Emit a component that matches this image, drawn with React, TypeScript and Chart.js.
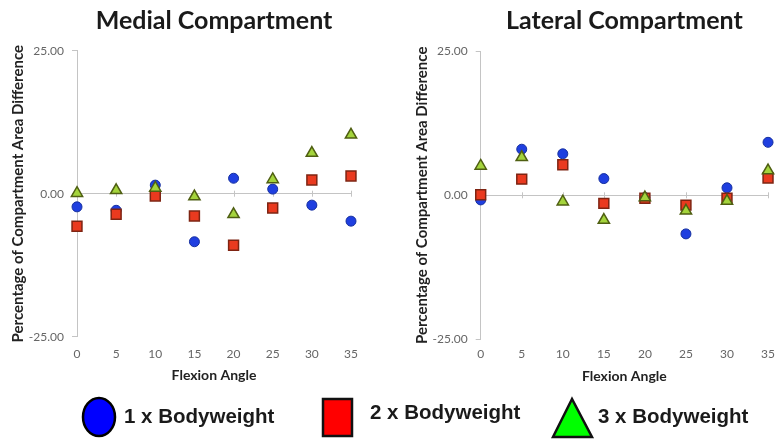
import React, { useEffect, useRef } from "react";
import { Chart, registerables } from "chart.js";

Chart.register(...registerables);

const angles = [0, 5, 10, 15, 20, 25, 30, 35];
const yTickValues = [-25, 0, 25];

const medial1x = [-2.3, -2.9, 1.5, -8.4, 2.7, 0.8, -2.0, -4.8];
const medial2x = [-5.7, -3.6, -0.4, -3.9, -9.0, -2.5, 2.4, 3.1];
const medial3x = [0.1, 0.6, 1.0, -0.5, -3.6, 2.5, 7.1, 10.3];

const lateral1x = [-0.8, 8.0, 7.2, 2.9, -0.4, -6.7, 1.3, 9.2];
const lateral2x = [0.1, 2.8, 5.3, -1.4, -0.5, -1.7, -0.5, 3.0];
const lateral3x = [5.1, 6.6, -1.1, -4.3, -0.4, -2.7, -1.0, 4.3];

const seriesNames = ["1 x Bodyweight", "2 x Bodyweight", "3 x Bodyweight"];

const FONT = 'Lato, "Open Sans", sans-serif';
const AXIS_GRAY = "#c4c4c4";

const zeroTicks = {
  id: "zeroTicks",
  beforeDatasetsDraw(chart: any) {
    const { ctx, scales } = chart;
    const x = scales.x;
    const y = scales.y;
    const y0 = y.getPixelForValue(0);
    ctx.save();
    ctx.strokeStyle = AXIS_GRAY;
    ctx.lineWidth = 1;
    x.ticks.forEach((t: any) => {
      const px = Math.round(x.getPixelForValue(t.value)) + 0.5;
      ctx.beginPath();
      ctx.moveTo(px, y0 - 3);
      ctx.lineTo(px, y0 + 3);
      ctx.stroke();
    });
    ctx.restore();
  },
};

type PanelProps = {
  title: string;
  d1: number[];
  d2: number[];
  d3: number[];
  width: number;
  height: number;
  yAxisWidth: number;
  padRight: number;
  xHeight: number;
  xTickPad: number;
  xTitlePadBottom: number;
  yTitlePadTop: number;
  titlePadBottom: number;
};

function toPts(vals: number[]) {
  return vals.map((v, i) => ({ x: angles[i], y: v }));
}

function Panel(p: PanelProps) {
  const ref = useRef<HTMLCanvasElement | null>(null);
  useEffect(() => {
    if (!ref.current) return;
    const chart = new Chart(ref.current, {
      type: "scatter",
      data: {
        datasets: [
          {
            label: seriesNames[0],
            data: toPts(p.d1),
            pointStyle: "circle",
            pointRadius: 5,
            pointHoverRadius: 5,
            backgroundColor: "#1f3fe0",
            borderColor: "#16309f",
            borderWidth: 1,
            order: 2,
            clip: false,
          },
          {
            label: seriesNames[1],
            data: toPts(p.d2),
            pointStyle: "rect",
            pointRadius: 7,
            pointHoverRadius: 7,
            backgroundColor: "#ea3a1f",
            borderColor: "#7e2412",
            borderWidth: 1.5,
            order: 1,
            clip: false,
          },
          {
            label: seriesNames[2],
            data: toPts(p.d3),
            pointStyle: "triangle",
            pointRadius: 6.5,
            pointHoverRadius: 6.5,
            backgroundColor: "#a4d43c",
            borderColor: "#4f5f12",
            borderWidth: 1.5,
            order: 0,
            clip: false,
          },
        ],
      },
      options: {
        responsive: false,
        animation: false,
        layout: { padding: { left: 0, right: p.padRight, top: 0, bottom: 0 } },
        plugins: {
          legend: { display: false },
          tooltip: { enabled: false },
          title: {
            display: true,
            text: p.title,
            fullSize: false,
            color: "#1a1a1a",
            font: { family: FONT, size: 25, weight: "bold", lineHeight: 1.2 },
            padding: { top: 6, bottom: p.titlePadBottom },
          },
        },
        scales: {
          x: {
            type: "linear",
            min: 0,
            max: 35,
            afterBuildTicks: (scale: any) => {
              scale.ticks = angles.map((v) => ({ value: v }));
            },
            afterFit: (scale: any) => {
              scale.height = p.xHeight;
            },
            border: { display: false },
            grid: { display: false, drawTicks: false },
            ticks: {
              padding: p.xTickPad,
              color: "#666",
              font: { family: FONT, size: 12, lineHeight: 1.2 },
              callback: (v: any) => String(v),
            },
            title: {
              display: true,
              text: "Flexion Angle",
              color: "#222",
              font: { family: FONT, size: 14, weight: "bold", lineHeight: 1.2 },
              padding: { top: 0, bottom: p.xTitlePadBottom },
            },
          },
          y: {
            type: "linear",
            min: -25,
            max: 25,
            afterBuildTicks: (scale: any) => {
              scale.ticks = yTickValues.map((v) => ({ value: v }));
            },
            afterFit: (scale: any) => {
              scale.width = p.yAxisWidth;
            },
            border: { display: true, color: AXIS_GRAY, width: 1 },
            grid: {
              drawTicks: true,
              tickLength: 5,
              color: (ctx: any) => (ctx.tick && ctx.tick.value === 0 ? AXIS_GRAY : "rgba(0,0,0,0)"),
              tickColor: AXIS_GRAY,
            },
            ticks: {
              padding: 8,
              color: "#666",
              font: { family: FONT, size: 12, lineHeight: 1.2 },
              callback: (v: any) => Number(v).toFixed(2),
            },
            title: {
              display: true,
              text: "Percentage of Compartment Area Difference",
              color: "#222",
              font: { family: FONT, size: 15, weight: "bold", lineHeight: 1.2 },
              padding: { top: p.yTitlePadTop, bottom: 0 },
            },
          },
        },
      },
      plugins: [zeroTicks],
    } as any);
    return () => chart.destroy();
  }, []);
  return (
    <canvas
      ref={ref}
      width={p.width}
      height={p.height}
      style={{ width: p.width, height: p.height, display: "block" }}
    />
  );
}

const legendText: React.CSSProperties = {
  position: "absolute",
  top: 404,
  fontFamily: '"Liberation Sans", Arial, sans-serif',
  fontWeight: "bold",
  fontSize: 20.5,
  lineHeight: "24px",
  color: "#1a1a1a",
  whiteSpace: "nowrap",
};

export default function App() {
  return (
    <div
      style={{
        position: "fixed",
        left: 0,
        top: 0,
        width: 783,
        height: 448,
        background: "#fff",
        overflow: "hidden",
      }}
    >
      <div style={{ position: "absolute", left: 0, top: 0 }}>
        <Panel
          title="Medial Compartment"
          d1={medial1x}
          d2={medial2x}
          d3={medial3x}
          width={395}
          height={395}
          yAxisWidth={77}
          padRight={44}
          xHeight={58.3}
          xTickPad={10.5}
          xTitlePadBottom={11.6}
          yTitlePadTop={9.5}
          titlePadBottom={14.7}
        />
      </div>
      <div style={{ position: "absolute", left: 395, top: 0 }}>
        <Panel
          title="Lateral Compartment"
          d1={lateral1x}
          d2={lateral2x}
          d3={lateral3x}
          width={388}
          height={395}
          yAxisWidth={85.7}
          padRight={11.3}
          xHeight={55.7}
          xTickPad={8}
          xTitlePadBottom={9.9}
          yTitlePadTop={17.7}
          titlePadBottom={15.3}
        />
      </div>
      <svg
        width={783}
        height={448}
        style={{ position: "absolute", left: 0, top: 0, pointerEvents: "none" }}
      >
        <ellipse cx={99} cy={417} rx={16} ry={19} fill="#0000ff" stroke="#000" strokeWidth={2.5} />
        <rect x={323} y={399} width={29} height={37} fill="#ff0000" stroke="#111" strokeWidth={2.5} />
        <polygon points="572,399 553,437 592,437" fill="#00ff00" stroke="#111" strokeWidth={2.5} strokeLinejoin="miter" />
      </svg>
      <div style={{ ...legendText, left: 124 }}>{seriesNames[0]}</div>
      <div style={{ ...legendText, left: 370, top: 400 }}>{seriesNames[1]}</div>
      <div style={{ ...legendText, left: 598 }}>{seriesNames[2]}</div>
    </div>
  );
}
